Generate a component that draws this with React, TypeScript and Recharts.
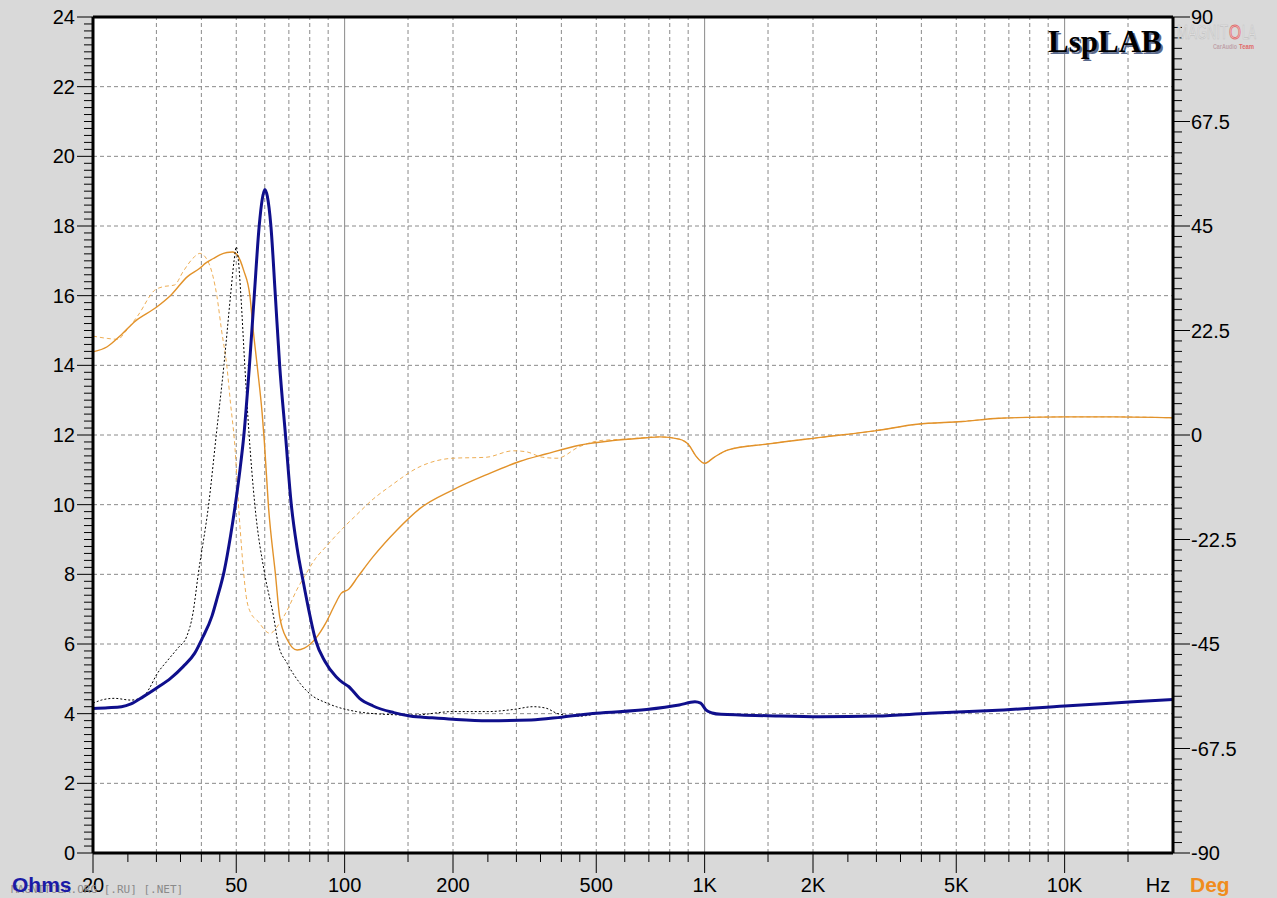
import React from 'react';
import { LineChart, Line, XAxis, YAxis, CartesianGrid, ReferenceLine } from 'recharts';

// ---- Impedance (Ohms), main measurement (thick blue) ----
const zMainFreq = [20, 22, 24, 25.5, 27.6, 30, 32.9, 35.6, 38.3, 40.3, 42.8, 44.2, 46.3, 48.2, 49.7, 51.2, 52.5, 54.4, 56.1, 57.9, 59, 60, 61, 62.4, 64.2, 66, 68.5, 71.1, 73.8, 76.7, 79.6, 83.1, 88.2, 94.7, 98.8, 102.6, 110, 120, 137, 152, 175, 200, 250, 330, 400, 500, 690, 850, 940, 975, 1010, 1050, 1110, 1500, 2100, 3000, 4200, 6300, 10000, 15500, 20000];
const zMainOhm = [4.15, 4.17, 4.2, 4.28, 4.49, 4.73, 5.02, 5.35, 5.73, 6.18, 6.8, 7.3, 8.1, 9.1, 10.0, 11.0, 12.0, 14.0, 16.0, 18.0, 18.75, 19.05, 18.85, 18.0, 16.0, 14.0, 12.0, 10.0, 8.75, 7.8, 6.95, 6.1, 5.5, 5.06, 4.89, 4.78, 4.44, 4.22, 4.03, 3.93, 3.88, 3.84, 3.8, 3.82, 3.9, 4.01, 4.12, 4.25, 4.34, 4.3, 4.1, 4.02, 3.98, 3.94, 3.91, 3.93, 4.01, 4.09, 4.22, 4.34, 4.41];

// ---- Impedance (Ohms), second measurement (black dotted) ----
const zAltFreq = [20, 21.1, 22.9, 25.5, 27.6, 28.7, 30, 32.3, 34.4, 36.4, 37.9, 39.2, 41.9, 44.1, 46.2, 48.2, 49.3, 50, 50.7, 51.5, 52.8, 54.2, 56.3, 60, 63.5, 65.4, 69.3, 75.2, 81.9, 88, 94.8, 107.9, 125, 155, 200, 250, 294, 334, 362, 394, 450, 500];
const zAltOhm = [4.3, 4.39, 4.44, 4.39, 4.49, 4.73, 5.11, 5.54, 5.88, 6.21, 6.88, 8.0, 10.0, 12.1, 14.0, 16.0, 17.0, 17.4, 17.0, 16.0, 14.0, 12.1, 10.0, 8.0, 6.78, 6.0, 5.44, 4.87, 4.49, 4.33, 4.2, 4.06, 3.99, 3.96, 4.06, 4.06, 4.12, 4.2, 4.16, 3.99, 3.93, 4.0];

// ---- Phase (Deg), main measurement (orange solid) ----
const pMainFreq = [20, 21.9, 23.9, 26.1, 30, 32.9, 36.6, 39.6, 41.1, 43.2, 45, 47.1, 48.8, 50.5, 52.4, 54.6, 55.6, 57.2, 59, 59.8, 61.4, 64.3, 66, 69.3, 73.8, 77.3, 83.1, 88.6, 94, 97.8, 102.6, 108.9, 120, 139.6, 162, 200, 247, 306, 362, 449, 556, 690, 750, 850, 905, 945, 1000, 1062, 1163, 1505, 2100, 2972, 3890, 5200, 6580, 10000, 13770, 20000];
const pMainDeg = [17.9, 19.0, 21.5, 24.4, 27.5, 30.1, 34.1, 35.9, 37.0, 38.0, 38.8, 39.3, 39.4, 38.6, 35.5, 29.8, 23.3, 14.7, 4.7, -1.1, -15.1, -30.3, -39.1, -44.1, -46.3, -45.9, -43.8, -40.5, -36.5, -34.1, -33.2, -30.5, -26.2, -20.5, -15.8, -11.8, -8.6, -5.7, -4.1, -2.2, -1.2, -0.6, -0.4, -0.9, -2.2, -4.5, -6.1, -4.8, -3.2, -1.9, -0.5, 0.9, 2.3, 2.9, 3.6, 3.9, 3.9, 3.7];

// ---- Phase (Deg), second measurement (orange dashed) ----
const pAltFreq = [20, 21.9, 23.5, 24.4, 26.7, 29.7, 31.2, 33.7, 35.6, 38.3, 39.6, 41.3, 43.1, 44.2, 45.5, 47.1, 48.2, 49.4, 51.2, 53.3, 55, 57, 62, 66, 69.3, 73.8, 77.3, 83, 88.6, 98.8, 108.9, 120, 133.4, 162, 200, 247, 294, 319, 355, 389, 449, 512, 600, 750, 850, 905, 945, 1000, 1062, 1163, 1505, 2100, 2972, 3890, 5200, 6580, 10000, 13770, 20000];
const pAltDeg = [21.3, 20.8, 20.6, 21.9, 25.8, 31.2, 31.9, 32.3, 35.2, 38.4, 39.1, 38.0, 34.1, 29.8, 22.6, 14.7, 6.8, -1.1, -19.7, -34.8, -38.5, -39.8, -42.7, -40.5, -37.7, -33.2, -30.5, -26.6, -24.1, -20.1, -16.9, -13.8, -11.1, -6.8, -5.0, -4.8, -3.4, -3.6, -4.8, -5.0, -2.5, -1.2, -0.9, -0.4, -0.9, -2.2, -4.5, -6.1, -4.8, -3.2, -1.9, -0.5, 0.9, 2.3, 2.9, 3.6, 3.9, 3.9, 3.7];

// ---- Axes / ticks ----
const xLabelTicks = [20, 50, 100, 200, 500, 1000, 2000, 5000, 10000];
const xLabelText = ['20', '50', '100', '200', '500', '1K', '2K', '5K', '10K'];
const xMinorTicks = [25, 30, 35, 40, 45, 60, 70, 80, 90, 150, 250, 300, 350, 400, 450, 600, 700, 800, 900, 1500, 2500, 3000, 3500, 4000, 4500, 6000, 7000, 8000, 9000, 15000];
const xDashedGrid = [30, 40, 50, 60, 70, 80, 90, 150, 200, 300, 400, 500, 600, 700, 800, 900, 1500, 2000, 3000, 4000, 5000, 6000, 7000, 8000, 9000, 15000];
const xSolidGrid = [100, 1000, 10000];
const ohmLabels = [0, 2, 4, 6, 8, 10, 12, 14, 16, 18, 20, 22, 24];
const ohmGrid = [2, 4, 6, 8, 10, 12, 14, 16, 18, 20, 22];
const degLabels = [-90, -67.5, -45, -22.5, 0, 22.5, 45, 67.5, 90];
const ohmMinorStep = 0.2;
const degMinorStep = 2.25;

const ohmTicks = Array.from({ length: Math.round(24 / ohmMinorStep) + 1 }, (_, i) => Math.round(i * ohmMinorStep * 100) / 100);
const degTicks = Array.from({ length: Math.round(180 / degMinorStep) + 1 }, (_, i) => Math.round((i * degMinorStep - 90) * 100) / 100);
const xTicks = [...xLabelTicks, ...xMinorTicks].sort((a, b) => a - b);

const toPts = (f: number[], v: number[]) => f.map((x, i) => ({ f: x, v: v[i] }));
const zMain = toPts(zMainFreq, zMainOhm);
const zAlt = toPts(zAltFreq, zAltOhm);
const pMain = toPts(pMainFreq, pMainDeg);
const pAlt = toPts(pAltFreq, pAltDeg);

const FONT = '"Liberation Sans", Arial, sans-serif';
const LABEL_SIZE = 20;

const XTick = (props: any) => {
  const { x, y, payload } = props;
  const idx = xLabelTicks.indexOf(payload.value);
  const major = idx >= 0;
  return (
    <g>
      <line x1={x} x2={x} y1={y} y2={y + (major ? 20 : 9)} stroke="#000" strokeWidth={1} />
      {major && (
        <text x={x} y={y + 39} textAnchor="middle" fontSize={LABEL_SIZE} fontFamily={FONT} fill="#000">
          {xLabelText[idx]}
        </text>
      )}
    </g>
  );
};

const LeftTick = (props: any) => {
  const { x, y, payload } = props;
  const major = ohmLabels.some((v) => Math.abs(v - payload.value) < 1e-6);
  return (
    <g>
      <line x1={x - (major ? 16 : 9)} x2={x} y1={y} y2={y} stroke="#000" strokeWidth={1} />
      {major && (
        <text x={x - 18} y={y + 7} textAnchor="end" fontSize={LABEL_SIZE} fontFamily={FONT} fill="#000">
          {payload.value}
        </text>
      )}
    </g>
  );
};

const RightTick = (props: any) => {
  const { x, y, payload } = props;
  const major = degLabels.some((v) => Math.abs(v - payload.value) < 1e-6);
  return (
    <g>
      <line x1={x} x2={x + (major ? 17 : 9)} y1={y} y2={y} stroke="#000" strokeWidth={1} />
      {major && (
        <text x={x + 18} y={y + 7} textAnchor="start" fontSize={LABEL_SIZE} fontFamily={FONT} fill="#000">
          {payload.value}
        </text>
      )}
    </g>
  );
};

export default function App() {
  return (
    <div style={{ position: 'absolute', left: 0, top: 0, width: 1277, height: 898, background: '#d9d9d9', overflow: 'hidden' }}>
      <LineChart width={1277} height={898} margin={{ top: 17, right: 44, bottom: 15, left: 33 }}>
        <CartesianGrid fill="#ffffff" horizontal={false} vertical={false} />
        {ohmGrid.map((v) => (
          <ReferenceLine key={'h' + v} y={v} stroke="#8a8a8a" strokeDasharray="4 3" strokeWidth={1} />
        ))}
        {xDashedGrid.map((f) => (
          <ReferenceLine key={'vd' + f} x={f} stroke="#8a8a8a" strokeDasharray="4 3" strokeWidth={1} />
        ))}
        {xSolidGrid.map((f) => (
          <ReferenceLine key={'vs' + f} x={f} stroke="#8a8a8a" strokeWidth={1} />
        ))}
        <XAxis
          type="number"
          dataKey="f"
          scale="log"
          domain={[20, 20000]}
          allowDataOverflow
          ticks={xTicks}
          interval={0}
          tick={(p: any) => <XTick {...p} />}
          tickLine={false}
          tickSize={0}
          tickMargin={0}
          axisLine={{ stroke: '#000', strokeWidth: 3 }}
          height={30}
        />
        <YAxis
          type="number"
          domain={[0, 24]}
          allowDataOverflow
          ticks={ohmTicks}
          interval={0}
          tick={(p: any) => <LeftTick {...p} />}
          tickLine={false}
          tickSize={0}
          tickMargin={0}
          axisLine={{ stroke: '#000', strokeWidth: 3 }}
          width={60}
        />
        <YAxis
          yAxisId="deg"
          orientation="right"
          type="number"
          domain={[-90, 90]}
          allowDataOverflow
          ticks={degTicks}
          interval={0}
          tick={(p: any) => <RightTick {...p} />}
          tickLine={false}
          tickSize={0}
          tickMargin={0}
          axisLine={{ stroke: '#000', strokeWidth: 3 }}
          width={60}
        />
        <ReferenceLine y={24} stroke="#000" strokeWidth={3} />
        <Line data={pAlt} dataKey="v" yAxisId="deg" type="monotone" stroke="#eeae55" strokeWidth={1} strokeDasharray="4 3" dot={false} isAnimationActive={false} />
        <Line data={pMain} dataKey="v" yAxisId="deg" type="monotone" stroke="#e2922a" strokeWidth={1.4} dot={false} isAnimationActive={false} />
        <Line data={zAlt} dataKey="v" type="monotone" stroke="#000000" strokeWidth={1} strokeDasharray="2 2" dot={false} isAnimationActive={false} />
        <Line data={zMain} dataKey="v" type="monotone" stroke="#0f0f8c" strokeWidth={3} dot={false} isAnimationActive={false} />
      </LineChart>
      <svg width={1277} height={898} style={{ position: 'absolute', left: 0, top: 0, pointerEvents: 'none' }}>
        <text x={1050} y={54} fontSize={31} fontWeight="bold" fontFamily='"Liberation Serif", "Times New Roman", serif' fill="#5a6a8c">LspLAB</text>
        <text x={1048} y={52} fontSize={31} fontWeight="bold" fontFamily='"Liberation Serif", "Times New Roman", serif' fill="#000">LspLAB</text>
        <text x={1177} y={39} fontSize={21} fontFamily={FONT} fill="#e6e6e6" stroke="#c2c2c2" strokeWidth={0.7} textLength={51} lengthAdjust="spacingAndGlyphs">MAGNIT</text>
        <text x={1229} y={39} fontSize={21} fontFamily={FONT} fill="#f3c8c8" stroke="#e07070" strokeWidth={0.9} textLength={12} lengthAdjust="spacingAndGlyphs">O</text>
        <text x={1242} y={39} fontSize={21} fontFamily={FONT} fill="#e6e6e6" stroke="#c2c2c2" strokeWidth={0.7} textLength={14} lengthAdjust="spacingAndGlyphs">LA</text>
        <text x={1213} y={49} fontSize={6.5} fontWeight="bold" fontFamily={FONT} fill="#c0a4aa" textLength={24} lengthAdjust="spacingAndGlyphs">CarAudio</text>
        <text x={1239} y={49} fontSize={6.5} fontWeight="bold" fontFamily={FONT} fill="#e06a6a" textLength={15} lengthAdjust="spacingAndGlyphs">Team</text>
        <text x={11} y={893} fontSize={11} fontFamily='"DejaVu Sans Mono", "Liberation Mono", monospace' fill="#8a8a8a">MAGNITOLA.ORG [.RU] [.NET]</text>
        <text x={12} y={892} fontSize={21} fontWeight="bold" fontFamily={FONT} fill="#1a1aa6">Ohms</text>
        <text x={1158} y={892} fontSize={LABEL_SIZE} textAnchor="middle" fontFamily={FONT} fill="#000">Hz</text>
        <text x={1190} y={892} fontSize={21} fontWeight="bold" fontFamily={FONT} fill="#f08c1e">Deg</text>
      </svg>
    </div>
  );
}
